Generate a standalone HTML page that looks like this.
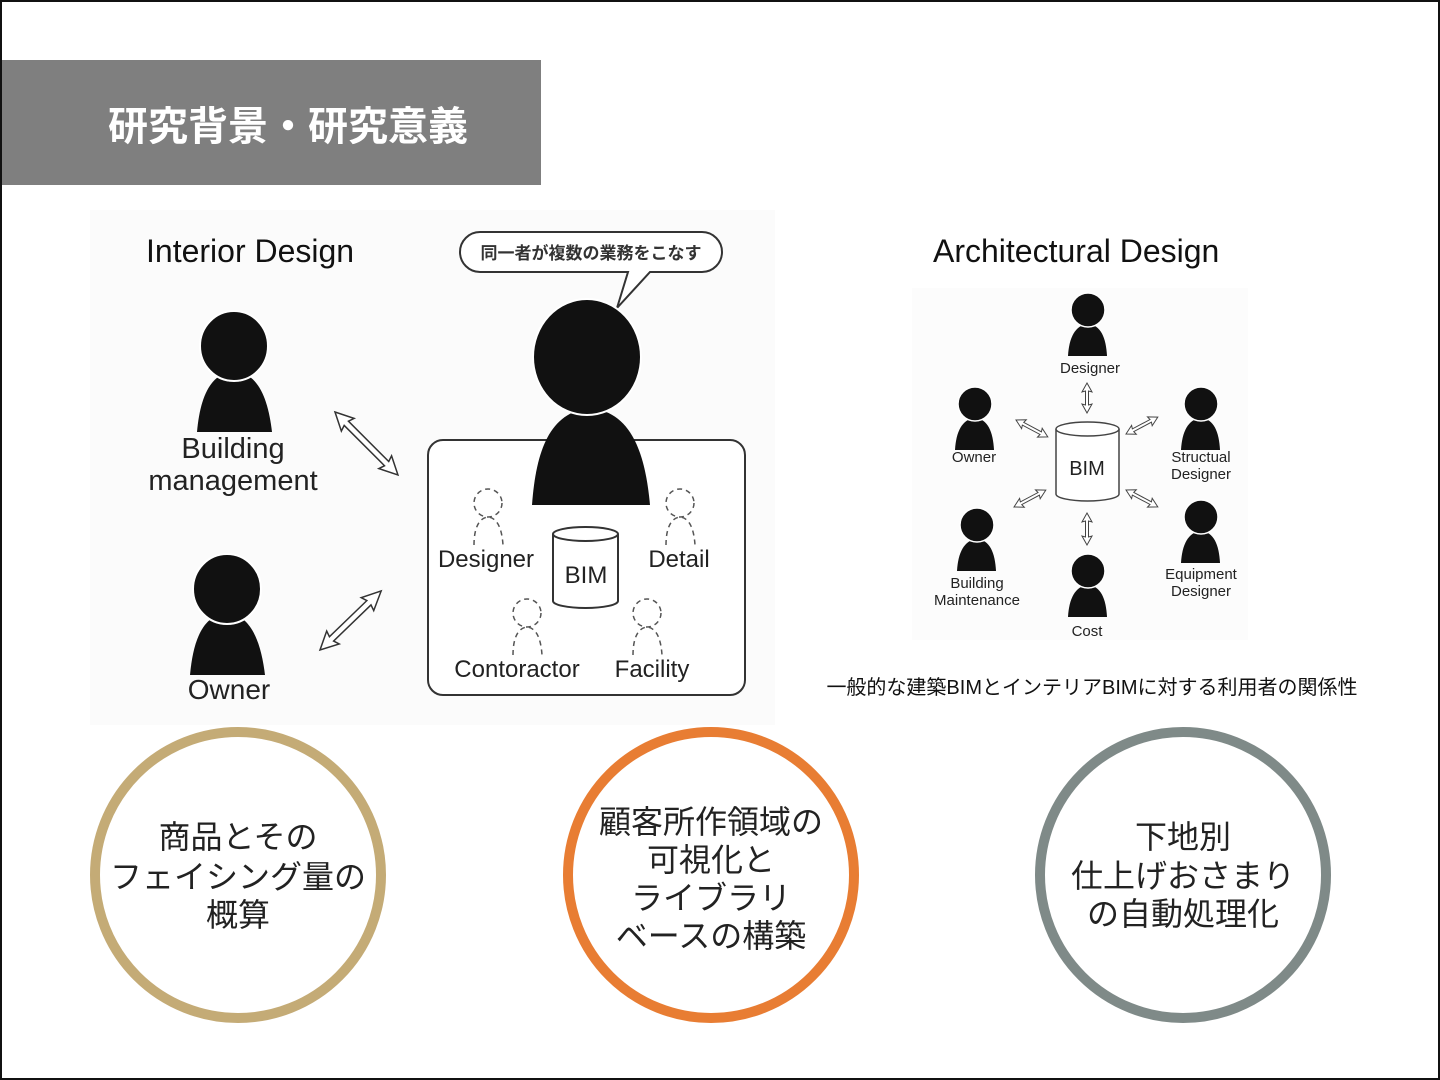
<!DOCTYPE html>
<html><head><meta charset="utf-8"><style>
html,body{margin:0;padding:0;background:#fff}
svg{display:block}
.jp{font-family:"Liberation Sans","Noto Sans CJK JP",sans-serif}
</style></head><body>
<svg width="1440" height="1080" viewBox="0 0 1440 1080" xmlns="http://www.w3.org/2000/svg" class="jp">
<rect x="1" y="1" width="1438" height="1078" fill="#fff" stroke="#111" stroke-width="2"/>
<rect x="2" y="60" width="539" height="125" fill="#7f7f7f"/>
<text x="288" y="140" text-anchor="middle" fill="#fff" font-size="40" font-weight="bold">研究背景・研究意義</text>

<rect x="90" y="210" width="685" height="515" fill="#fbfbfb"/>
<text x="146" y="262" font-size="32" fill="#111">Interior Design</text>

<path d="M480,232 H702 A20,20 0 0 1 722,252 A20,20 0 0 1 702,272 H650 L617,308 L628,272 H480 A20,20 0 0 1 460,252 A20,20 0 0 1 480,232 Z" fill="#fff" stroke="#333" stroke-width="2"/>
<text x="591" y="259" text-anchor="middle" font-size="17" font-weight="bold" fill="#333">同一者が複数の業務をこなす</text>

<rect x="428" y="440" width="317" height="255" rx="15" fill="#fff" stroke="#333" stroke-width="2"/>

<path d="M197,432 C200,398 210,373 234,371 C258,373 268,398 272,432 Z" fill="#111"/>
<ellipse cx="234" cy="346" rx="34" ry="35" fill="#111" stroke="#fff" stroke-width="2"/>
<text x="233" y="458" text-anchor="middle" font-size="29" fill="#222">Building</text>
<text x="233" y="490" text-anchor="middle" font-size="29" fill="#222">management</text>

<path d="M190,675 C193,642 202,615 227,613 C251,615 261,642 265,675 Z" fill="#111"/>
<ellipse cx="227" cy="589" rx="34" ry="35" fill="#111" stroke="#fff" stroke-width="2"/>
<text x="229" y="699" text-anchor="middle" font-size="28" fill="#222">Owner</text>

<path d="M532,505 C536,450 550,412 590,408 C630,412 645,450 650,505 Z" fill="#111"/>
<ellipse cx="587" cy="357" rx="54" ry="58" fill="#111" stroke="#fff" stroke-width="2"/>

<g fill="#fff" stroke="#333" stroke-width="1.5">
 <polygon transform="translate(335,412) rotate(45)" points="0,0 18,-9 16,-3 73,-3 71,-9 89,0 71,9 73,3 16,3 18,9"/>
 <polygon transform="translate(320,650) rotate(-44)" points="0,0 18,-9 16,-3 68,-3 66,-9 85,0 66,9 68,3 16,3 18,9"/>
</g>

<g fill="none" stroke="#555" stroke-width="1.5" stroke-dasharray="5,4">
 <circle cx="488" cy="503" r="14"/><path d="M474,545 C474,530 478,518 488,517 C498,518 502,530 503,545"/>
 <circle cx="680" cy="503" r="14"/><path d="M666,545 C666,530 670,518 680,517 C690,518 694,530 695,545"/>
 <circle cx="527" cy="613" r="14"/><path d="M513,655 C513,640 517,628 527,627 C537,628 541,640 542,655"/>
 <circle cx="647" cy="613" r="14"/><path d="M633,655 C633,640 637,628 647,627 C657,628 661,640 662,655"/>
</g>
<g font-size="24" fill="#222" text-anchor="middle">
 <text x="486" y="567">Designer</text>
 <text x="679" y="567">Detail</text>
 <text x="517" y="677">Contoractor</text>
 <text x="652" y="677">Facility</text>
</g>
<path d="M553,534 V601 A32.5,7 0 0 0 618,601 V534" fill="#fff" stroke="#333" stroke-width="2"/>
<ellipse cx="585.5" cy="534" rx="32.5" ry="7" fill="#fff" stroke="#333" stroke-width="2"/>
<text x="586" y="583" text-anchor="middle" font-size="24" fill="#222">BIM</text>

<rect x="912" y="288" width="336" height="352" fill="#fcfcfc"/>
<text x="933" y="262" font-size="32" fill="#111">Architectural Design</text>
<path d="M1056,429 V494 A31.5,7 0 0 0 1119,494 V429" fill="#fff" stroke="#444" stroke-width="1.5"/>
<ellipse cx="1087.5" cy="429" rx="31.5" ry="7" fill="#fff" stroke="#444" stroke-width="1.5"/>
<text x="1087" y="475" text-anchor="middle" font-size="20" fill="#222">BIM</text>

<g fill="#111" stroke="#fff" stroke-width="1.5">
 <path d="M1068,356 C1069,338 1075,325 1088,324 C1101,325 1106,338 1107,356 Z" stroke="none"/><circle cx="1088" cy="310" r="17"/>
 <path d="M955,450 C956,432 962,419 975,418 C988,419 993,432 994,450 Z" stroke="none"/><circle cx="975" cy="404" r="17"/>
 <path d="M1181,450 C1182,432 1188,419 1201,418 C1214,419 1219,432 1220,450 Z" stroke="none"/><circle cx="1201" cy="404" r="17"/>
 <path d="M957,571 C958,553 964,540 977,539 C990,540 995,553 996,571 Z" stroke="none"/><circle cx="977" cy="525" r="17"/>
 <path d="M1181,563 C1182,545 1188,532 1201,531 C1214,532 1219,545 1220,563 Z" stroke="none"/><circle cx="1201" cy="517" r="17"/>
 <path d="M1068,617 C1069,599 1075,586 1088,585 C1101,586 1106,599 1107,617 Z" stroke="none"/><circle cx="1088" cy="571" r="17"/>
</g>
<g font-size="15" fill="#222" text-anchor="middle">
 <text x="1090" y="373">Designer</text>
 <text x="974" y="462">Owner</text>
 <text x="1201" y="462">Structual</text><text x="1201" y="479">Designer</text>
 <text x="977" y="588">Building</text><text x="977" y="605">Maintenance</text>
 <text x="1201" y="579">Equipment</text><text x="1201" y="596">Designer</text>
 <text x="1087" y="636">Cost</text>
</g>
<g fill="#fff" stroke="#444" stroke-width="1">
 <polygon transform="translate(1087,383) rotate(90)" points="0,0 9,-5 8,-1.5 22,-1.5 21,-5 30,0 21,5 22,1.5 8,1.5 9,5"/>
 <polygon transform="translate(1087,513) rotate(90)" points="0,0 9,-5 8,-1.5 24,-1.5 23,-5 32,0 23,5 24,1.5 8,1.5 9,5"/>
 <polygon transform="translate(1016,420) rotate(28)" points="0,0 9,-5 8,-1.5 28,-1.5 27,-5 36,0 27,5 28,1.5 8,1.5 9,5"/>
 <polygon transform="translate(1126,434) rotate(-28)" points="0,0 9,-5 8,-1.5 28,-1.5 27,-5 36,0 27,5 28,1.5 8,1.5 9,5"/>
 <polygon transform="translate(1014,507) rotate(-28)" points="0,0 9,-5 8,-1.5 28,-1.5 27,-5 36,0 27,5 28,1.5 8,1.5 9,5"/>
 <polygon transform="translate(1126,490) rotate(28)" points="0,0 9,-5 8,-1.5 28,-1.5 27,-5 36,0 27,5 28,1.5 8,1.5 9,5"/>
</g>
<text x="1092" y="694" text-anchor="middle" font-size="20" fill="#111">一般的な建築BIMとインテリアBIMに対する利用者の関係性</text>

<circle cx="238" cy="875" r="143" fill="#fff" stroke="#c4ab76" stroke-width="10"/>
<circle cx="711" cy="875" r="143" fill="#fff" stroke="#e87d33" stroke-width="10"/>
<circle cx="1183" cy="875" r="143" fill="#fff" stroke="#7f8a88" stroke-width="10"/>
<g font-size="32" fill="#222" text-anchor="middle">
 <text x="238" y="848">商品とその</text>
 <text x="238" y="888">フェイシング量の</text>
 <text x="238" y="926">概算</text>
 <text x="711" y="833">顧客所作領域の</text>
 <text x="711" y="871">可視化と</text>
 <text x="711" y="909">ライブラリ</text>
 <text x="711" y="947">ベースの構築</text>
 <text x="1183" y="848">下地別</text>
 <text x="1183" y="887">仕上げおさまり</text>
 <text x="1183" y="925">の自動処理化</text>
</g>
</svg>
</body></html>
